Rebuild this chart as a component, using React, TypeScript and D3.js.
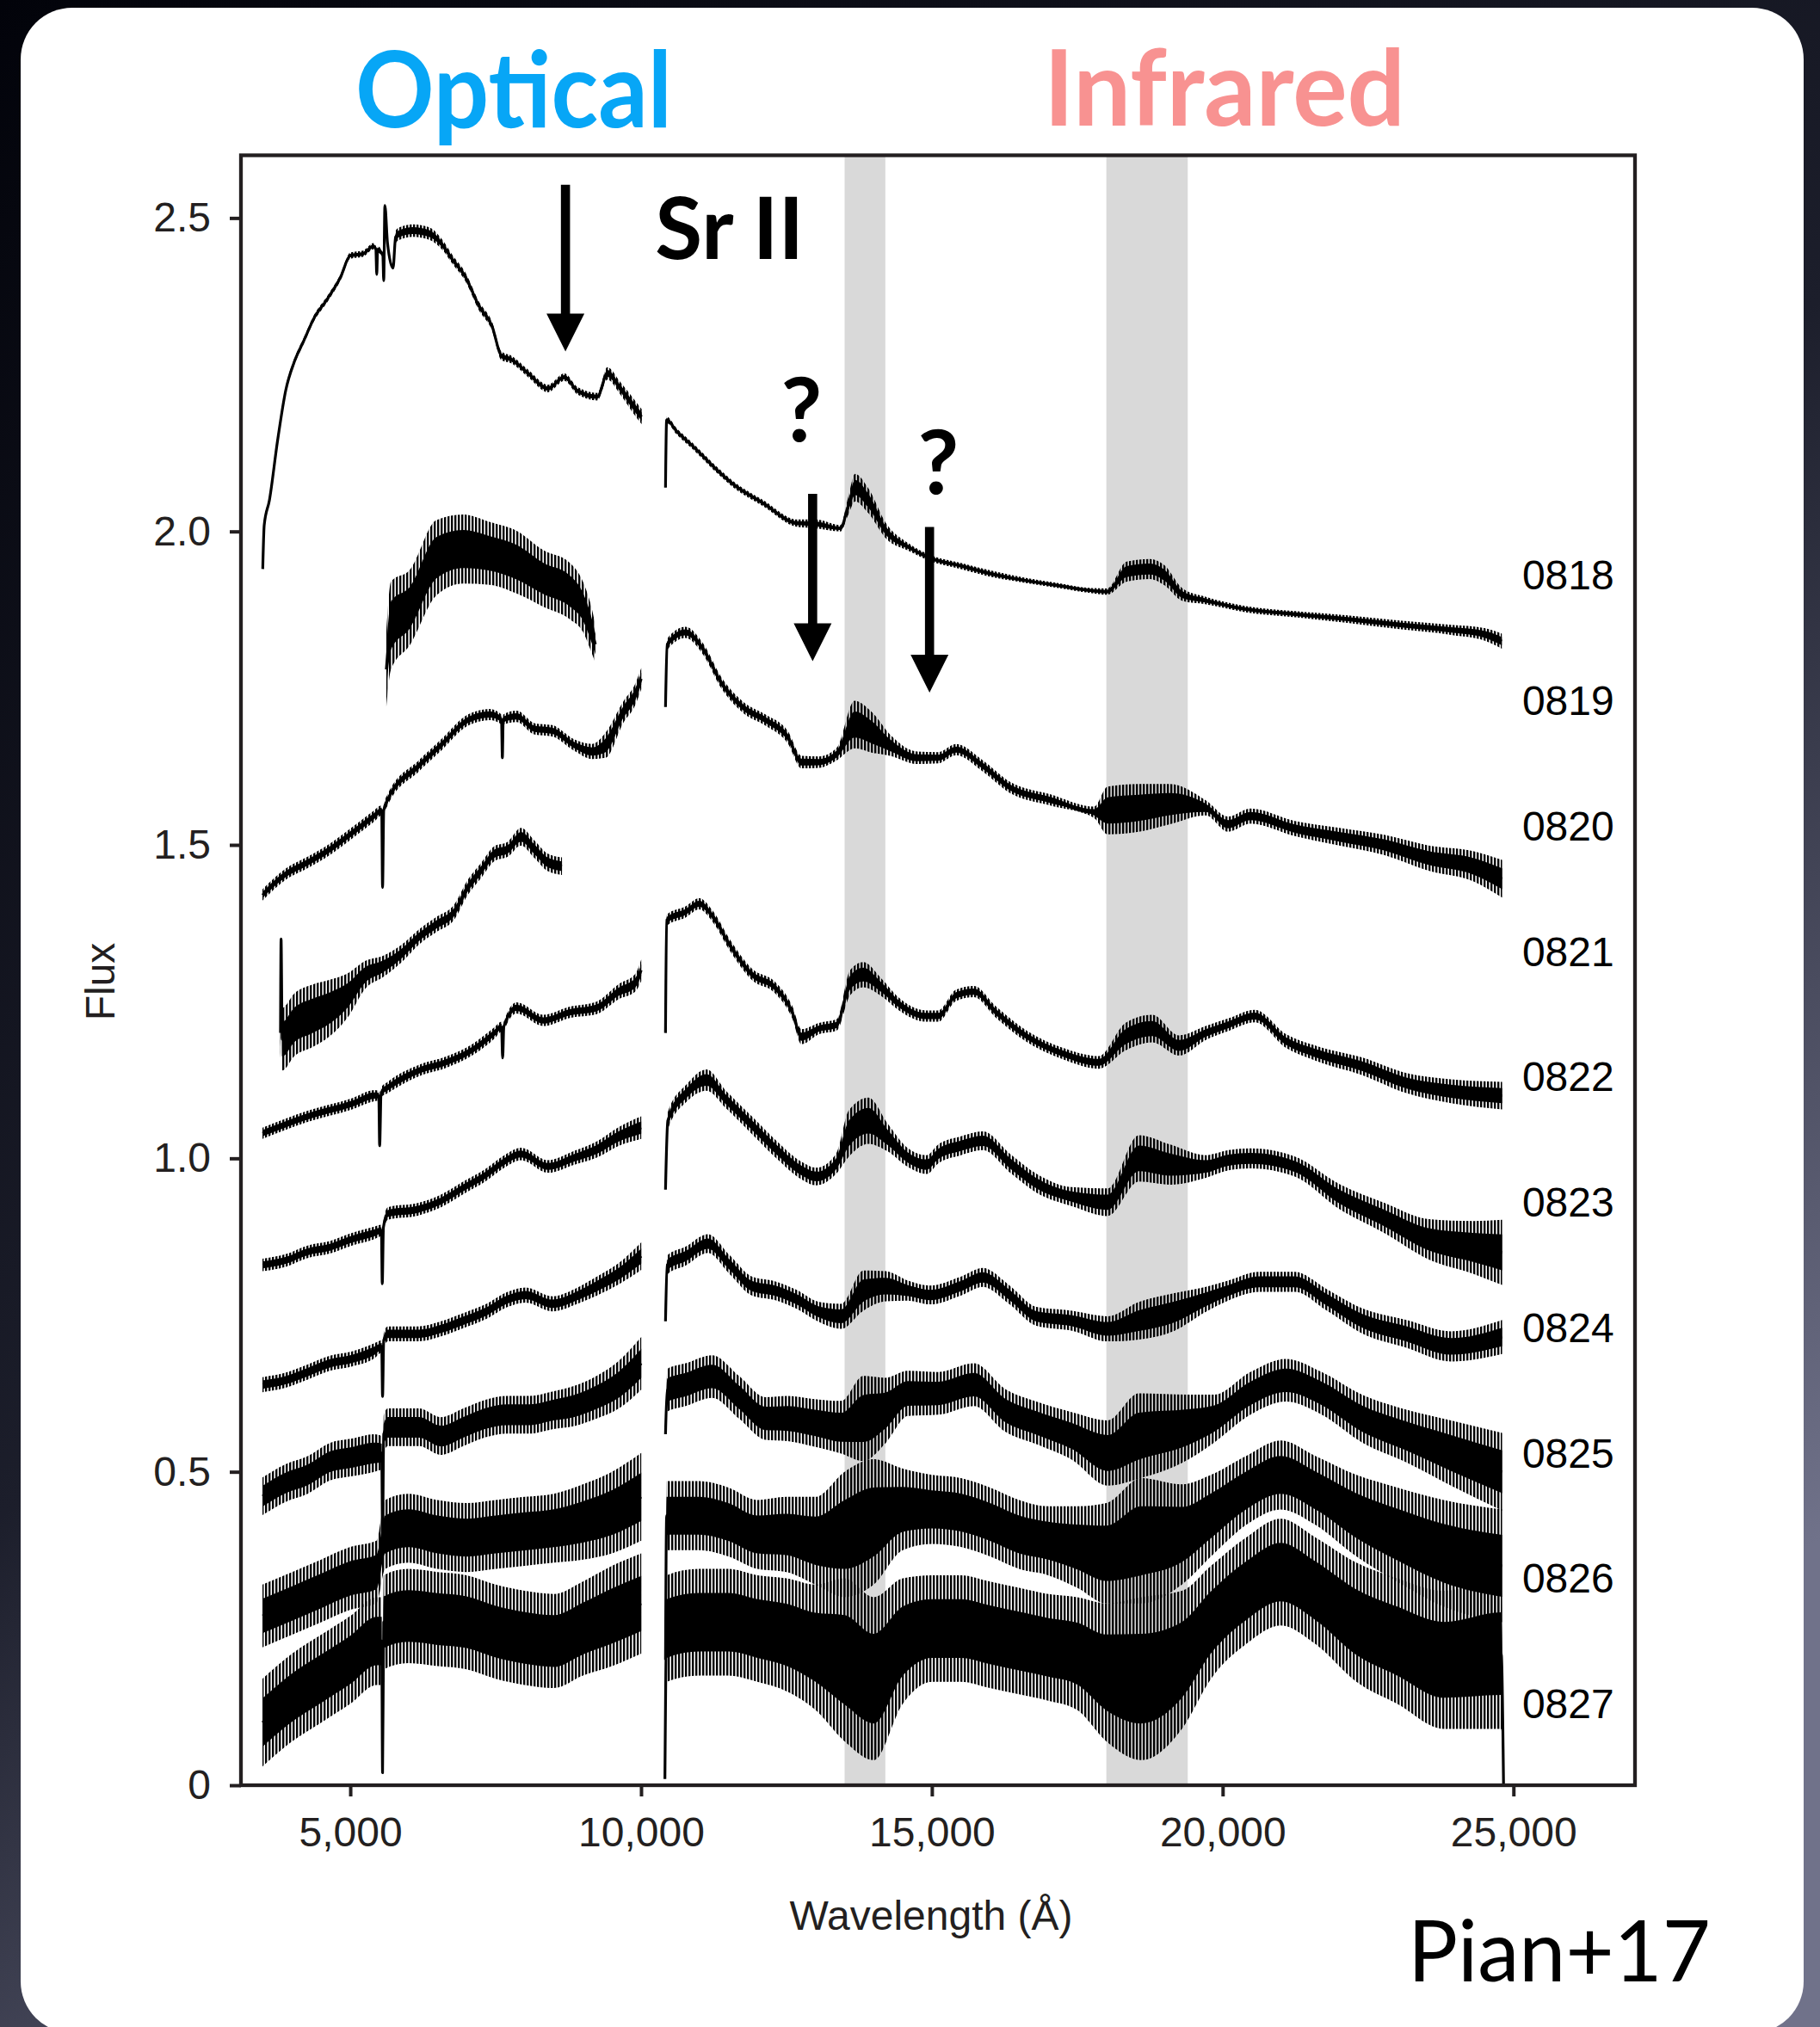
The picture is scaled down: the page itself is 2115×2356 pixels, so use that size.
import * as d3 from 'd3';
import React, { useEffect, useRef } from 'react';

// [wavelength (A), flux, half-width of the noise band]; null flux = gap between arms
type Pt = [number, number | null, number];

const labels = ['0818', '0819', '0820', '0821', '0822', '0823', '0824', '0825', '0826', '0827'];
const labelFlux = [1.93, 1.73, 1.53, 1.33, 1.13, 0.93, 0.73, 0.53, 0.33, 0.13];
const xTicks = [5000, 10000, 15000, 20000, 25000];
const yTicks = [0, 0.5, 1, 1.5, 2, 2.5];
const tellBands = [[13500, 14200], [18000, 19400]];
// [wavelength, top flux, tip flux]
const arrows = [[8700, 2.553, 2.287], [12950, 2.06, 1.793], [14960, 2.007, 1.743]];
const questions = [[12760, 2.143], [15110, 2.06]];

const s0818: Pt[] = [
  [3495, 1.94, 0], [3520, 2.01, 0.004], [3610, 2.05, 0.005], [3750, 2.145, 0.005], [3890, 2.225, 0.005],
  [4035, 2.27, 0.005], [4205, 2.305, 0.005], [4375, 2.34, 0.005], [4600, 2.37, 0.005], [4830, 2.405, 0.005],
  [5000, 2.44, 0.005], [5220, 2.443, 0.005], [5400, 2.455, 0.005], [5440, 2.45, 0.005], [5455, 2.41, 0],
  [5470, 2.45, 0.005], [5560, 2.44, 0.005], [5575, 2.4, 0], [5595, 2.52, 0], [5640, 2.46, 0.01],
  [5735, 2.42, 0], [5780, 2.47, 0.01], [5845, 2.475, 0.01], [6075, 2.48, 0.01], [6360, 2.475, 0.01],
  [6585, 2.457, 0.008], [6755, 2.434, 0.007], [6980, 2.406, 0.007], [7210, 2.36, 0.007], [7435, 2.328, 0.007],
  [7600, 2.28, 0.007], [7775, 2.274, 0.006], [8060, 2.252, 0.006], [8400, 2.228, 0.006], [8680, 2.246, 0.006],
  [8910, 2.224, 0.006], [9250, 2.215, 0.006], [9420, 2.252, 0.01], [9645, 2.228, 0.01], [9870, 2.2, 0.012],
  [10010, 2.183, 0.012],
  [10200, null, 0],
  [10420, 2.07, 0], [10440, 2.178, 0.005], [10610, 2.16, 0.005], [10890, 2.136, 0.005], [11340, 2.095, 0.005],
  [11560, 2.077, 0.005], [12100, 2.045, 0.005], [12690, 2.013, 0.006], [13000, 2.012, 0.007], [13430, 2.005, 0.005],
  [13560, 2.04, 0.014], [13680, 2.07, 0.022], [13900, 2.05, 0.02], [14220, 2.0, 0.012], [14600, 1.975, 0.006],
  [14960, 1.958, 0.005], [15500, 1.945, 0.005], [16090, 1.931, 0.005], [16600, 1.922, 0.004], [17220, 1.913, 0.004],
  [17700, 1.906, 0.004], [18010, 1.904, 0.005], [18350, 1.936, 0.016], [18750, 1.94, 0.016], [19000, 1.93, 0.016],
  [19310, 1.899, 0.01], [19700, 1.89, 0.006], [20400, 1.876, 0.005], [21250, 1.868, 0.005], [22150, 1.86, 0.006],
  [23040, 1.851, 0.007], [23930, 1.843, 0.008], [24500, 1.836, 0.01], [24800, 1.825, 0.012],
];

const s0819: Pt[] = [
  [5620, 1.78, 0.06], [5700, 1.85, 0.07], [6020, 1.878, 0.06], [6480, 1.958, 0.06], [6940, 1.972, 0.055],
  [7400, 1.965, 0.05], [7860, 1.951, 0.05], [8320, 1.925, 0.045], [8775, 1.905, 0.045], [9000, 1.88, 0.04],
  [9160, 1.839, 0.035], [9215, 1.82, 0.03],
];

const s0820: Pt[] = [
  [3490, 1.42, 0.009], [3885, 1.453, 0.009], [4267, 1.472, 0.009], [4650, 1.493, 0.009], [5030, 1.519, 0.009],
  [5410, 1.546, 0.009], [5540, 1.555, 0.008], [5555, 1.432, 0], [5575, 1.555, 0.008], [5644, 1.572, 0.009],
  [6178, 1.626, 0.009], [6560, 1.659, 0.009], [7020, 1.699, 0.009], [7398, 1.708, 0.009], [7600, 1.7, 0.008],
  [7615, 1.639, 0], [7630, 1.7, 0.008], [7860, 1.705, 0.009], [8170, 1.685, 0.009], [8472, 1.682, 0.009],
  [8854, 1.659, 0.009], [9160, 1.649, 0.012], [9390, 1.659, 0.02], [9696, 1.712, 0.017], [9900, 1.74, 0.017],
  [10003, 1.765, 0.017],
  [10200, null, 0],
  [10420, 1.72, 0], [10450, 1.82, 0.009], [10765, 1.839, 0.009], [11069, 1.812, 0.009], [11377, 1.759, 0.009],
  [11760, 1.719, 0.009], [12142, 1.699, 0.009], [12522, 1.672, 0.01], [12760, 1.632, 0.01], [13060, 1.632, 0.009],
  [13365, 1.645, 0.01], [13671, 1.692, 0.038], [13977, 1.679, 0.032], [14281, 1.659, 0.017], [14740, 1.639, 0.01],
  [15110, 1.639, 0.009], [15416, 1.652, 0.009], [15876, 1.626, 0.009], [16337, 1.592, 0.009], [17026, 1.572, 0.009],
  [17790, 1.552, 0.009], [18022, 1.555, 0.038], [18560, 1.559, 0.038], [19095, 1.565, 0.032], [19710, 1.559, 0.012],
  [20093, 1.533, 0.012], [20476, 1.546, 0.012], [21241, 1.526, 0.012], [22006, 1.513, 0.014], [22776, 1.5, 0.016],
  [23539, 1.479, 0.02], [24306, 1.466, 0.024], [24805, 1.446, 0.03],
];

const s0821: Pt[] = [
  [3800, 1.2, 0.04], [3810, 1.35, 0], [3830, 1.19, 0.05], [4038, 1.213, 0.05], [4343, 1.227, 0.05],
  [4649, 1.24, 0.045], [4955, 1.26, 0.035], [5260, 1.293, 0.022], [5562, 1.306, 0.017], [5873, 1.326, 0.014],
  [6178, 1.353, 0.012], [6482, 1.373, 0.012], [6789, 1.393, 0.012], [7019, 1.432, 0.012], [7247, 1.459, 0.012],
  [7478, 1.486, 0.012], [7707, 1.493, 0.012], [7936, 1.513, 0.014], [8167, 1.493, 0.014], [8396, 1.472, 0.014],
  [8640, 1.466, 0.014],
];

const s0822: Pt[] = [
  [3490, 1.04, 0.009], [4267, 1.067, 0.009], [5030, 1.087, 0.009], [5414, 1.1, 0.009], [5490, 1.1, 0.008],
  [5505, 1.02, 0], [5530, 1.105, 0.008], [5644, 1.113, 0.009], [6178, 1.14, 0.009], [6637, 1.153, 0.009],
  [7096, 1.173, 0.009], [7478, 1.2, 0.009], [7600, 1.21, 0.008], [7620, 1.16, 0], [7640, 1.21, 0.008],
  [7860, 1.24, 0.009], [8318, 1.22, 0.009], [8774, 1.233, 0.009], [9234, 1.24, 0.01], [9618, 1.266, 0.012],
  [9900, 1.28, 0.014], [10003, 1.3, 0.017],
  [10200, null, 0],
  [10420, 1.2, 0], [10440, 1.38, 0.009], [10765, 1.393, 0.009], [11000, 1.406, 0.009], [11232, 1.386, 0.009],
  [11528, 1.34, 0.009], [11912, 1.293, 0.009], [12297, 1.273, 0.009], [12600, 1.233, 0.01], [12757, 1.194, 0.012],
  [13060, 1.207, 0.009], [13365, 1.213, 0.009], [13593, 1.28, 0.02], [13822, 1.293, 0.02], [14130, 1.273, 0.014],
  [14436, 1.246, 0.01], [14895, 1.227, 0.009], [15110, 1.227, 0.009], [15416, 1.26, 0.009], [15723, 1.266, 0.009],
  [16106, 1.233, 0.009], [16643, 1.194, 0.009], [17256, 1.167, 0.009], [17869, 1.153, 0.01], [18329, 1.194, 0.022],
  [18790, 1.207, 0.022], [19250, 1.18, 0.016], [19710, 1.2, 0.011], [20093, 1.213, 0.01], [20554, 1.227, 0.01],
  [21091, 1.187, 0.011], [21624, 1.167, 0.012], [22394, 1.147, 0.014], [23161, 1.12, 0.016], [23927, 1.107, 0.019],
  [24805, 1.1, 0.022],
];

const s0823: Pt[] = [
  [3490, 0.83, 0.01], [3885, 0.837, 0.01], [4267, 0.851, 0.01], [4649, 0.858, 0.01], [5030, 0.871, 0.01],
  [5414, 0.881, 0.01], [5535, 0.885, 0.009], [5550, 0.8, 0], [5570, 0.89, 0.01], [5644, 0.912, 0.01],
  [6178, 0.919, 0.01], [6560, 0.932, 0.01], [6943, 0.953, 0.01], [7323, 0.973, 0.01], [7631, 0.994, 0.01],
  [7937, 1.007, 0.01], [8396, 0.987, 0.01], [8854, 1.001, 0.011], [9236, 1.014, 0.013], [9618, 1.035, 0.015],
  [10003, 1.049, 0.018],
  [10200, null, 0],
  [10420, 0.95, 0], [10460, 1.06, 0.014], [10791, 1.105, 0.014], [11125, 1.125, 0.017], [11459, 1.094, 0.014],
  [11904, 1.053, 0.014], [12350, 1.012, 0.014], [12750, 0.981, 0.014], [13018, 0.971, 0.014], [13352, 0.991, 0.016],
  [13575, 1.04, 0.037], [13909, 1.06, 0.037], [14243, 1.033, 0.022], [14577, 1.002, 0.015], [14911, 0.99, 0.015],
  [15110, 1.007, 0.015], [15500, 1.02, 0.015], [15876, 1.028, 0.015], [16359, 0.991, 0.015], [16804, 0.96, 0.015],
  [17400, 0.939, 0.015], [18022, 0.93, 0.022], [18560, 1.0, 0.037], [19100, 0.99, 0.032], [19710, 0.987, 0.018],
  [20100, 0.997, 0.016], [20476, 1.0, 0.016], [21241, 0.987, 0.016], [22006, 0.939, 0.02], [22776, 0.905, 0.024],
  [23539, 0.871, 0.032], [24306, 0.858, 0.042], [24805, 0.85, 0.052],
];

const s0824: Pt[] = [
  [3490, 0.639, 0.012], [3885, 0.646, 0.012], [4267, 0.659, 0.012], [4649, 0.673, 0.012], [5030, 0.68, 0.012],
  [5414, 0.693, 0.012], [5540, 0.7, 0.01], [5555, 0.62, 0], [5575, 0.71, 0.012], [5644, 0.72, 0.012],
  [6178, 0.72, 0.012], [6560, 0.728, 0.012], [6943, 0.741, 0.012], [7323, 0.755, 0.012], [7707, 0.775, 0.012],
  [8014, 0.782, 0.012], [8472, 0.768, 0.012], [8931, 0.782, 0.013], [9236, 0.796, 0.015], [9618, 0.816, 0.017],
  [10003, 0.844, 0.022],
  [10200, null, 0],
  [10420, 0.74, 0], [10450, 0.83, 0.015], [10765, 0.844, 0.015], [11147, 0.864, 0.015], [11528, 0.83, 0.015],
  [11912, 0.796, 0.015], [12297, 0.789, 0.015], [12676, 0.775, 0.015], [13060, 0.755, 0.016], [13441, 0.748, 0.02],
  [13822, 0.789, 0.032], [14206, 0.796, 0.024], [14588, 0.789, 0.016], [14970, 0.782, 0.015], [15494, 0.796, 0.015],
  [15876, 0.81, 0.015], [16337, 0.782, 0.015], [16796, 0.748, 0.015], [17410, 0.741, 0.016], [18022, 0.728, 0.02],
  [18560, 0.741, 0.03], [19172, 0.755, 0.03], [19710, 0.775, 0.02], [20093, 0.789, 0.016], [20630, 0.803, 0.016],
  [21241, 0.803, 0.016], [21779, 0.775, 0.017], [22394, 0.741, 0.02], [23161, 0.72, 0.022], [23927, 0.7, 0.024],
  [24805, 0.715, 0.027],
];

const s0825: Pt[] = [
  [3490, 0.461, 0.03], [3885, 0.482, 0.03], [4267, 0.495, 0.03], [4649, 0.516, 0.03], [5030, 0.523, 0.03],
  [5414, 0.53, 0.03], [5540, 0.53, 0.027], [5555, 0.4, 0], [5575, 0.56, 0.03], [5644, 0.571, 0.03],
  [6178, 0.571, 0.03], [6560, 0.557, 0.03], [6943, 0.571, 0.03], [7323, 0.585, 0.03], [7707, 0.591, 0.03],
  [8090, 0.591, 0.03], [8472, 0.598, 0.03], [8854, 0.605, 0.032], [9236, 0.619, 0.034], [9618, 0.639, 0.038],
  [10003, 0.673, 0.042],
  [10200, null, 0],
  [10420, 0.56, 0], [10450, 0.63, 0.034], [10765, 0.639, 0.034], [11224, 0.652, 0.034], [11683, 0.619, 0.034],
  [12142, 0.585, 0.034], [12522, 0.585, 0.036], [12983, 0.578, 0.038], [13441, 0.571, 0.042], [13822, 0.585, 0.068],
  [14206, 0.598, 0.052], [14588, 0.625, 0.036], [15110, 0.625, 0.034], [15723, 0.639, 0.034], [16260, 0.598, 0.034],
  [16796, 0.578, 0.034], [17410, 0.557, 0.038], [18022, 0.53, 0.052], [18560, 0.557, 0.068], [19400, 0.571, 0.052],
  [19858, 0.585, 0.038], [20476, 0.625, 0.034], [21091, 0.646, 0.034], [21704, 0.625, 0.034], [22394, 0.585, 0.038],
  [23161, 0.557, 0.042], [23927, 0.53, 0.052], [24805, 0.5, 0.062],
];

const s0826: Pt[] = [
  [3490, 0.27, 0.05], [4000, 0.29, 0.05], [4500, 0.31, 0.05], [5000, 0.33, 0.05], [5450, 0.34, 0.05],
  [5600, 0.4, 0.055], [6000, 0.41, 0.055], [6500, 0.4, 0.055], [7000, 0.395, 0.055], [7500, 0.4, 0.055],
  [8000, 0.405, 0.055], [8500, 0.41, 0.055], [9000, 0.42, 0.06], [9500, 0.435, 0.065], [10003, 0.46, 0.07],
  [10200, null, 0],
  [10420, 0.2, 0], [10440, 0.43, 0.055], [11000, 0.43, 0.055], [11500, 0.42, 0.055], [12000, 0.4, 0.055],
  [12500, 0.4, 0.06], [13000, 0.39, 0.07], [13500, 0.4, 0.1], [14000, 0.42, 0.1], [14500, 0.44, 0.065],
  [15000, 0.44, 0.055], [15500, 0.435, 0.055], [16000, 0.42, 0.055], [16500, 0.4, 0.055], [17000, 0.39, 0.055],
  [17500, 0.38, 0.065], [18000, 0.37, 0.08], [18600, 0.39, 0.1], [19300, 0.4, 0.08], [19800, 0.43, 0.065],
  [20400, 0.47, 0.055], [21000, 0.495, 0.055], [21600, 0.47, 0.055], [22300, 0.43, 0.065], [23000, 0.4, 0.075],
  [23800, 0.37, 0.085], [24805, 0.35, 0.09],
];

const s0827: Pt[] = [
  [3490, 0.1, 0.07], [4000, 0.14, 0.07], [4500, 0.17, 0.07], [5000, 0.2, 0.07], [5450, 0.23, 0.07],
  [5540, 0.23, 0.07], [5555, 0.02, 0], [5575, 0.26, 0.075], [6000, 0.27, 0.075], [6500, 0.265, 0.075],
  [7000, 0.26, 0.075], [7500, 0.245, 0.075], [8000, 0.235, 0.075], [8500, 0.23, 0.075], [9000, 0.25, 0.075],
  [9500, 0.27, 0.08], [10003, 0.29, 0.08],
  [10200, null, 0],
  [10410, 0.01, 0], [10440, 0.25, 0.085], [11000, 0.26, 0.085], [11500, 0.26, 0.085], [12000, 0.25, 0.085],
  [12500, 0.24, 0.09], [13000, 0.22, 0.1], [13500, 0.2, 0.13], [14000, 0.17, 0.13], [14500, 0.23, 0.1],
  [15000, 0.25, 0.085], [15500, 0.25, 0.085], [16000, 0.24, 0.085], [16500, 0.23, 0.085], [17000, 0.22, 0.085],
  [17500, 0.21, 0.09], [18000, 0.18, 0.11], [18600, 0.17, 0.13], [19300, 0.2, 0.11], [19800, 0.26, 0.09],
  [20400, 0.31, 0.085], [21000, 0.34, 0.085], [21600, 0.31, 0.085], [22300, 0.26, 0.095], [23000, 0.23, 0.1],
  [23800, 0.2, 0.11], [24790, 0.21, 0.12], [24830, 0.0, 0],
];

const spectra = [s0818, s0819, s0820, s0821, s0822, s0823, s0824, s0825, s0826, s0827];

const App = () => {
  const ref = useRef<SVGSVGElement>(null);

  useEffect(() => {
    const W = 2115, H = 2356;
    const plot = { left: 280, right: 1900, top: 180.5, bottom: 2075 };
    const axisFont = "'Liberation Sans', Arial, Helvetica, sans-serif";
    const titleFont = "Lato, 'Open Sans', sans-serif";
    const ink = '#231f20';

    const svg = d3.select(ref.current);
    svg.selectAll('*').remove();

    // slide background + white card
    const defs = svg.append('defs');
    const bg = defs.append('linearGradient').attr('id', 'bg')
      .attr('x1', 0).attr('y1', 0).attr('x2', 0.6).attr('y2', 1);
    bg.append('stop').attr('offset', '0%').attr('stop-color', '#02030a');
    bg.append('stop').attr('offset', '55%').attr('stop-color', '#1c1e2b');
    bg.append('stop').attr('offset', '100%').attr('stop-color', '#70728a');
    defs.append('clipPath').attr('id', 'plotClip')
      .append('rect')
      .attr('x', plot.left).attr('y', plot.top)
      .attr('width', plot.right - plot.left).attr('height', plot.bottom - plot.top);
    // vertical hatching used for the outer (spiky) part of each noise band
    const pat = defs.append('pattern').attr('id', 'spiky')
      .attr('patternUnits', 'userSpaceOnUse').attr('width', 4).attr('height', 8);
    pat.append('rect').attr('width', 2.4).attr('height', 8).attr('fill', '#000');

    svg.append('rect').attr('width', W).attr('height', H).attr('fill', 'url(#bg)');
    svg.append('rect')
      .attr('x', 24).attr('y', 9).attr('width', 2072).attr('height', 2354)
      .attr('rx', 60).attr('fill', '#fff');

    const x = d3.scaleLinear().domain([3120, 27090]).range([plot.left, plot.right]);
    const y = d3.scaleLinear().domain([0, 2.6]).range([plot.bottom, plot.top]);

    // telluric bands
    svg.append('g')
      .selectAll('rect')
      .data(tellBands)
      .join('rect')
      .attr('x', d => x(d[0]))
      .attr('width', d => x(d[1]) - x(d[0]))
      .attr('y', y(2.6))
      .attr('height', y(0) - y(2.6))
      .attr('fill', '#d9d9d9');

    // spectra: hatched outer band, solid core, centre line
    const band = (k: number) => d3.area<Pt>()
      .defined(d => d[1] !== null)
      .curve(d3.curveMonotoneX)
      .x(d => x(d[0]))
      .y0(d => y((d[1] as number) - k * d[2]))
      .y1(d => y((d[1] as number) + k * d[2]));
    const outer = band(1);
    const inner = band(0.55);
    const line = d3.line<Pt>()
      .defined(d => d[1] !== null)
      .curve(d3.curveMonotoneX)
      .x(d => x(d[0]))
      .y(d => y(d[1] as number));

    const gSpec = svg.append('g').attr('clip-path', 'url(#plotClip)');
    spectra.forEach(s => {
      gSpec.append('path').attr('d', outer(s)).attr('fill', 'url(#spiky)');
      gSpec.append('path').attr('d', inner(s)).attr('fill', '#000');
      gSpec.append('path').attr('d', line(s))
        .attr('fill', 'none').attr('stroke', '#000')
        .attr('stroke-width', 3.2).attr('stroke-linejoin', 'round');
    });

    // axes
    const yAxis = svg.append('g')
      .attr('transform', `translate(${plot.left},0)`)
      .call(d3.axisLeft(y).tickValues(yTicks).tickSize(13).tickSizeOuter(0).tickPadding(22)
        .tickFormat(d => (+d === 0 ? '0' : d3.format('.1f')(+d))));
    const xAxis = svg.append('g')
      .attr('transform', `translate(0,${plot.bottom})`)
      .call(d3.axisBottom(x).tickValues(xTicks).tickSize(13).tickSizeOuter(0).tickPadding(24)
        .tickFormat(d3.format(',')));
    [xAxis, yAxis].forEach(g => {
      g.attr('font-size', 48).attr('font-family', axisFont);
      g.select('.domain').remove();
      g.selectAll('line').attr('stroke', ink).attr('stroke-width', 4);
      g.selectAll('text').attr('fill', ink);
    });

    svg.append('rect')
      .attr('x', plot.left).attr('y', plot.top)
      .attr('width', plot.right - plot.left).attr('height', plot.bottom - plot.top)
      .attr('fill', 'none').attr('stroke', ink).attr('stroke-width', 4.3);

    svg.append('text')
      .attr('x', (plot.left + plot.right) / 2 - 8).attr('y', 2243)
      .attr('text-anchor', 'middle')
      .attr('font-family', axisFont).attr('font-size', 48).attr('fill', ink)
      .text('Wavelength (Å)');
    svg.append('text')
      .attr('transform', 'translate(133,1141) rotate(-90)')
      .attr('text-anchor', 'middle')
      .attr('font-family', axisFont).attr('font-size', 48).attr('fill', ink)
      .text('Flux');

    // epoch labels
    svg.append('g')
      .selectAll('text')
      .data(labels)
      .join('text')
      .attr('x', x(25150))
      .attr('y', (_, i) => y(labelFlux[i]))
      .attr('dy', '0.35em')
      .attr('font-family', axisFont).attr('font-size', 48).attr('fill', '#000')
      .text(d => d);

    // arrows
    svg.append('g')
      .selectAll('path')
      .data(arrows)
      .join('path')
      .attr('d', d => {
        const cx = x(d[0]), top = y(d[1]), tip = y(d[2]);
        const hw = 22, sw = 5.3, hh = 44;
        return `M${cx - sw},${top}H${cx + sw}V${tip - hh}H${cx + hw}L${cx},${tip}L${cx - hw},${tip - hh}H${cx - sw}Z`;
      })
      .attr('fill', '#000');

    svg.append('g')
      .selectAll('text')
      .data(questions)
      .join('text')
      .attr('x', d => x(d[0]))
      .attr('y', d => y(d[1]))
      .attr('text-anchor', 'middle')
      .attr('font-family', titleFont).attr('font-weight', 700).attr('font-size', 104)
      .attr('fill', '#000')
      .text('?');

    svg.append('text')
      .attr('x', x(10240)).attr('y', y(2.434))
      .attr('font-family', titleFont).attr('font-weight', 700).attr('font-size', 100)
      .attr('textLength', 173).attr('lengthAdjust', 'spacingAndGlyphs')
      .attr('fill', '#000')
      .text('Sr II');

    // slide titles
    svg.append('text')
      .attr('x', 413).attr('y', 148)
      .attr('font-family', titleFont).attr('font-weight', 700).attr('font-size', 122)
      .attr('textLength', 368).attr('lengthAdjust', 'spacingAndGlyphs')
      .attr('fill', '#07a6f6')
      .text('Optical');
    svg.append('text')
      .attr('x', 1213).attr('y', 146)
      .attr('font-family', titleFont).attr('font-weight', 700).attr('font-size', 122)
      .attr('textLength', 420).attr('lengthAdjust', 'spacingAndGlyphs')
      .attr('fill', '#f89291')
      .text('Infrared');
    svg.append('text')
      .attr('x', 1636).attr('y', 2303)
      .attr('font-family', titleFont).attr('font-size', 98)
      .attr('textLength', 352).attr('lengthAdjust', 'spacingAndGlyphs')
      .attr('fill', '#000')
      .text('Pian+17');
  }, []);

  return (
    <svg ref={ref} width={2115} height={2356}
      style={{ position: 'absolute', left: 0, top: 0, display: 'block' }} />
  );
};

export default App;
